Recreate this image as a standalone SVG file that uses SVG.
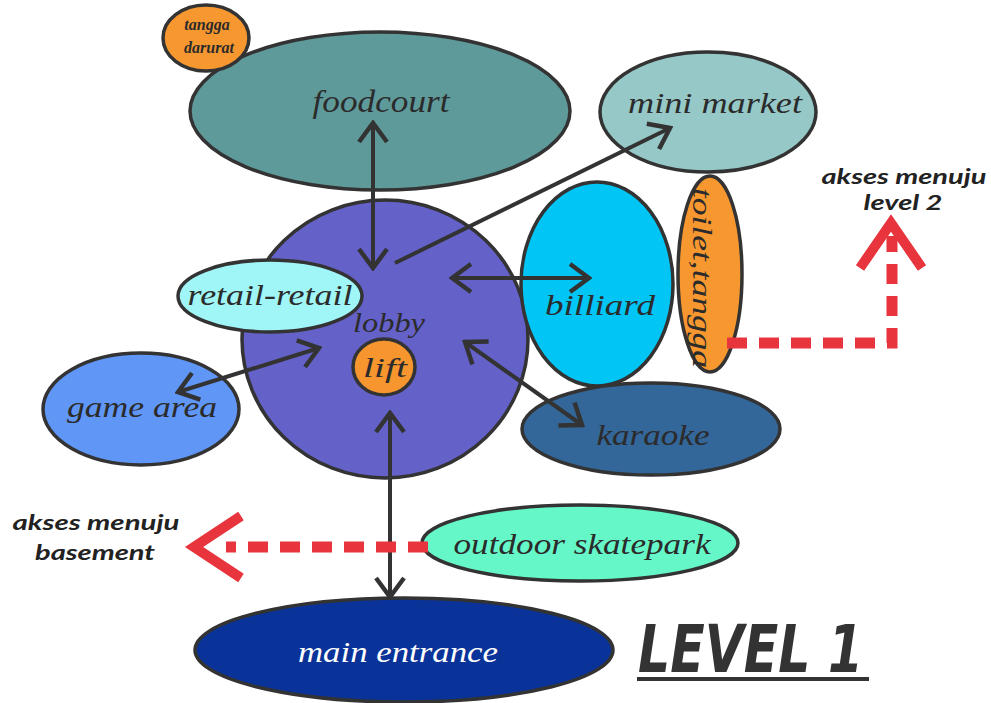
<svg xmlns="http://www.w3.org/2000/svg" width="991" height="703" viewBox="0 0 991 703">
  <style>
    .node { stroke: #333; stroke-width: 3.5; }
    .lbl { font-family: "Liberation Serif", "DejaVu Serif", serif; font-style: italic; fill: #2b2b2b; text-anchor: middle; }
    .link { stroke: #333; stroke-width: 4; fill: none; marker-end: url(#head); }
    .both { marker-start: url(#head); }
    .exit { stroke: #e8343c; stroke-width: 11; fill: none; stroke-dasharray: 20 12; }
    .chev { stroke: #e8343c; stroke-width: 10; fill: none; stroke-linejoin: miter; }
    .note { font-family: "Lato", "Liberation Sans", sans-serif; font-style: italic; font-weight: bold; fill: #222; text-anchor: middle; font-size: 21px; }
  </style>
  <defs>
    <marker id="head" viewBox="0 0 24 32" refX="21" refY="16" markerWidth="24" markerHeight="32" markerUnits="userSpaceOnUse" orient="auto-start-reverse">
      <path d="M2,2 L21,16 L2,30" fill="none" stroke="#333" stroke-width="4.5"/>
    </marker>
  </defs>

  <rect width="991" height="703" fill="#fff"/>

  <!-- rooms -->
  <g id="foodcourt">
    <ellipse class="node" cx="380" cy="111" rx="190" ry="79" fill="#5f9a9b"/>
    <text class="lbl" x="381" y="112" font-size="32" textLength="137" lengthAdjust="spacingAndGlyphs">foodcourt</text>
  </g>
  <g id="tangga-darurat">
    <ellipse class="node" cx="206" cy="38" rx="43" ry="33" fill="#f7972f"/>
    <text class="lbl" x="207" y="30" font-size="16" font-weight="bold">tangga</text>
    <text class="lbl" x="209" y="53" font-size="16" font-weight="bold">darurat</text>
  </g>
  <g id="mini-market">
    <ellipse class="node" cx="708" cy="112" rx="108" ry="60" fill="#96c8c8"/>
    <text class="lbl" x="715" y="113" font-size="30" textLength="174" lengthAdjust="spacingAndGlyphs">mini market</text>
  </g>
  <g id="lobby">
    <ellipse class="node" cx="385" cy="339" rx="143" ry="139" fill="#6461c9"/>
    <text class="lbl" x="389" y="332" font-size="28" textLength="72" lengthAdjust="spacingAndGlyphs">lobby</text>
  </g>
  <g id="lift">
    <ellipse class="node" cx="384" cy="367" rx="31" ry="28" fill="#f7962e"/>
    <text class="lbl" x="385" y="377" font-size="27" textLength="44" lengthAdjust="spacingAndGlyphs">lift</text>
  </g>
  <g id="retail">
    <ellipse class="node" cx="270" cy="296" rx="92" ry="36" fill="#a0f5f7"/>
    <text class="lbl" x="270" y="305" font-size="30" textLength="165" lengthAdjust="spacingAndGlyphs">retail-retail</text>
  </g>
  <g id="game-area">
    <ellipse class="node" cx="141" cy="409" rx="98" ry="56" fill="#6096f6"/>
    <text class="lbl" x="142" y="417" font-size="30" textLength="150" lengthAdjust="spacingAndGlyphs">game area</text>
  </g>
  <g id="billiard">
    <ellipse class="node" cx="597" cy="284" rx="76" ry="102" fill="#00c5f5"/>
    <text class="lbl" x="600" y="315" font-size="30" textLength="110" lengthAdjust="spacingAndGlyphs">billiard</text>
  </g>
  <g id="toilet-tangga">
    <ellipse class="node" cx="710" cy="274" rx="32" ry="98" fill="#f7972f"/>
    <text class="lbl" transform="translate(693,278) rotate(90)" x="0" y="0" font-size="28" textLength="180" lengthAdjust="spacingAndGlyphs">toilet,tangga</text>
  </g>
  <g id="karaoke">
    <ellipse class="node" cx="651" cy="429" rx="129" ry="46" fill="#336699"/>
    <text class="lbl" x="653" y="445" font-size="30" textLength="113" lengthAdjust="spacingAndGlyphs">karaoke</text>
  </g>
  <g id="outdoor-skatepark">
    <ellipse class="node" cx="580" cy="543" rx="158" ry="38" fill="#66f7c9"/>
    <text class="lbl" x="582" y="554" font-size="30" textLength="257" lengthAdjust="spacingAndGlyphs">outdoor skatepark</text>
  </g>
  <g id="main-entrance">
    <ellipse class="node" cx="404" cy="650" rx="209" ry="52" fill="#0a3399"/>
    <text class="lbl" x="398" y="662" font-size="30" style="fill:#fff" textLength="200" lengthAdjust="spacingAndGlyphs">main entrance</text>
  </g>

  <!-- circulation links -->
  <g id="connectors">
    <line class="link both" x1="373" y1="123" x2="373" y2="268"/>
    <line class="link" x1="395" y1="263" x2="670" y2="128"/>
    <line class="link both" x1="452" y1="278" x2="589" y2="278"/>
    <line class="link both" x1="465" y1="342" x2="582" y2="425"/>
    <line class="link both" x1="178" y1="392" x2="319" y2="348"/>
    <line class="link both" x1="390" y1="413" x2="390" y2="597"/>
  </g>

  <!-- exits to other levels -->
  <g id="exits">
    <path class="exit" d="M727,343 H892 V236"/>
    <polyline class="chev" points="860,268 891,223 922,268"/>
    <path class="exit" d="M428,547 H226"/>
    <polyline class="chev" points="241,516 194,547 241,578"/>
  </g>

  <g id="notes">
    <text class="note" x="904" y="184" textLength="165" lengthAdjust="spacingAndGlyphs">akses menuju</text>
    <text class="note" x="903" y="210" textLength="79" lengthAdjust="spacingAndGlyphs">level 2</text>
    <text class="note" x="96" y="530" textLength="167" lengthAdjust="spacingAndGlyphs">akses menuju</text>
    <text class="note" x="95" y="560" textLength="120" lengthAdjust="spacingAndGlyphs">basement</text>
  </g>

  <g id="title">
    <text x="638" y="672" font-family="'DejaVu Sans Condensed', 'DejaVu Sans', sans-serif" font-weight="bold" font-style="oblique" font-size="66" fill="#333" textLength="225" lengthAdjust="spacingAndGlyphs">LEVEL 1</text>
    <rect x="637" y="677" width="232" height="4" fill="#333"/>
  </g>
</svg>
